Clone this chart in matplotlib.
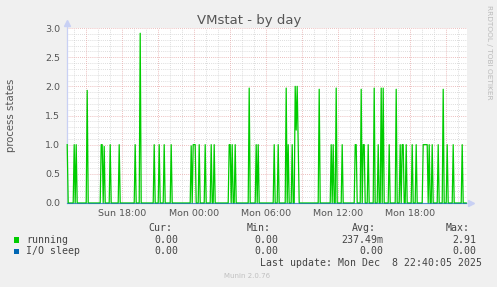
import matplotlib
matplotlib.use("Agg")
import matplotlib.pyplot as plt
import numpy as np

W, H = 497, 287

# ---------------- data ----------------
title = "VMstat - by day"
y_label = "process states"
start_hour = 13 + 25 / 60          # Sun 13:25, hours since Sun 00:00
step_hours = 5 / 60                # 5-minute samples
n_samples = 400

running_spike_index = [0, 7, 9, 20, 34, 35, 37, 43, 52, 68, 73, 87, 92, 97, 104,
                       124, 126, 127, 128, 132, 138, 144, 147, 162, 163, 165, 168,
                       182, 189, 191, 207, 211, 219, 221, 225, 228, 229, 230, 231,
                       252, 264, 266, 269, 275, 288, 289, 294, 296, 297, 301, 307,
                       311, 314, 316, 322, 329, 333, 335, 336, 339, 345, 349,
                       356, 357, 358, 359, 360, 362, 365, 371, 376, 380, 386, 395]
running_spike_value = [1.0, 1.0, 1.0, 1.93, 1.0, 1.0, 0.97, 1.0, 1.0, 1.0, 2.91, 1.0, 1.0, 1.0, 1.0,
                       0.98, 1.0, 1.0, 1.0, 1.0, 1.0, 1.0, 1.0, 1.0, 1.0, 1.0, 1.0,
                       1.97, 1.0, 1.0, 1.0, 1.0, 1.97, 1.0, 1.0, 2.0, 1.25, 2.0, 1.0,
                       1.95, 1.0, 1.0, 1.97, 1.0, 1.0, 1.0, 1.95, 1.0, 1.0, 1.0, 1.97,
                       1.0, 1.97, 1.97, 1.0, 1.95, 1.0, 1.0, 1.0, 1.0, 1.0, 1.0,
                       1.0, 1.0, 1.0, 1.0, 1.0, 1.0, 1.0, 1.0, 1.95, 1.0, 1.0, 1.0]
io_sleep_level = 0.0

x_tick_hours = [18, 24, 30, 36, 42]
x_tick_labels = ["Sun 18:00", "Mon 00:00", "Mon 06:00", "Mon 12:00", "Mon 18:00"]
y_ticks = [0.0, 0.5, 1.0, 1.5, 2.0, 2.5, 3.0]

legend_names = ["running", "I/O sleep"]
legend_colors = ["#00cc00", "#0066b3"]
cur_vals = ["0.00", "0.00"]
min_vals = ["0.00", "0.00"]
avg_vals = ["237.49m", "0.00"]
max_vals = ["2.91", "0.00"]
last_update = "Last update: Mon Dec  8 22:40:05 2025"
munin_version = "Munin 2.0.76"
rrd_credit = "RRDTOOL / TOBI OETIKER"

# ---------------- build series ----------------
t = start_hour + step_hours * np.arange(n_samples)
running = np.zeros(n_samples)
running[running_spike_index] = running_spike_value
io_sleep = np.full(n_samples, io_sleep_level)

# ---------------- figure ----------------
def fx(x):
    return x / W

def fy(y):
    return 1 - y / H

fig = plt.figure(figsize=(W / 100, H / 100), dpi=100, facecolor="#f0f0f0")
ax = fig.add_axes([fx(67), fy(203), 400 / W, 175 / H])
ax.set_facecolor("white")
x0, x1 = start_hour - step_hours * 0.2, start_hour + step_hours * (n_samples - 0.2)
ax.set_xlim(x0, x1)
ax.set_ylim(0, 3.0)
for s in ax.spines.values():
    s.set_visible(False)

dot = (0, (1, 1.5))
# minor grid
for yv in np.arange(0.1, 3.0001, 0.1):
    if abs(yv / 0.5 - round(yv / 0.5)) > 1e-6:
        ax.axhline(yv, color="#d2d2d2", lw=0.6, ls=dot, zorder=0)
for hv in range(14, 47):
    if hv % 3 != 0:
        ax.axvline(hv, color="#d2d2d2", lw=0.6, ls=dot, zorder=0)
# major grid
for yv in y_ticks[1:]:
    ax.axhline(yv, color="#e6a8a8", lw=0.6, ls=dot, zorder=0.5)
for hv in range(15, 47, 3):
    ax.axvline(hv, color="#e6a8a8", lw=0.6, ls=dot, zorder=0.5)

ax.set_yticks(y_ticks)
ax.set_yticklabels([f"{v:.1f}" for v in y_ticks])
ax.set_xticks(x_tick_hours)
ax.set_xticklabels(x_tick_labels)
ax.tick_params(axis="both", length=0, labelsize=6.8, colors="#555555")
ax.tick_params(axis="y", pad=5)
ax.tick_params(axis="x", pad=4)

# axis lines & arrows
axis_col = "#c8d0f4"
ax.plot([x0, x0], [0, 3.08], color=axis_col, lw=0.9, clip_on=False, zorder=1)
ax.plot([x0, x1 + 0.15], [0, 0], color=axis_col, lw=0.9, clip_on=False, zorder=1)
ax.plot([x0], [3.08], marker="^", ms=4.5, color=axis_col, mec=axis_col, clip_on=False, zorder=1)
ax.plot([x1 + 0.3], [0], marker=">", ms=4.5, color=axis_col, mec=axis_col, clip_on=False, zorder=1)

# data
ax.plot(t, running, color=legend_colors[0], lw=0.9, zorder=3, clip_on=False)
ax.plot(t, io_sleep, color=legend_colors[1], lw=0.8, zorder=4, alpha=0.6, clip_on=False)

# title & labels
fig.text(fx(248.7), fy(24), title, ha="center", va="baseline", fontsize=9.5, color="#555555")
fig.text(fx(11), fy(115.5), y_label, ha="center", va="center", rotation=90, fontsize=7.3, color="#555555")
fig.text(fx(488.5), fy(5), rrd_credit, ha="center", va="top", rotation=-90, fontsize=5.3, color="#bbbbbb")

# legend
mono = "DejaVu Sans Mono"
lc = "#444444"
fs = 7.1
hdr_y, row_y = 228.3, [240, 251.3]
for label, xr in zip(["Cur:", "Min:", "Avg:", "Max:"], [172, 271, 376, 469.5]):
    fig.text(fx(xr), fy(hdr_y), label, ha="right", va="center", family=mono, fontsize=fs, color=lc)
for i in range(2):
    ax_sq = fig.add_axes([fx(14), fy(row_y[i] + 2.6), 5.3 / W, 5.3 / H])
    ax_sq.set_facecolor(legend_colors[i])
    ax_sq.set_xticks([]); ax_sq.set_yticks([])
    for s in ax_sq.spines.values():
        s.set_visible(False)
    fig.text(fx(26.5), fy(row_y[i]), legend_names[i], ha="left", va="center", family=mono, fontsize=fs, color=lc)
    for val, xr in zip([cur_vals[i], min_vals[i], avg_vals[i], max_vals[i]], [178.5, 278, 383.3, 476.7]):
        fig.text(fx(xr), fy(row_y[i]), val, ha="right", va="center", family=mono, fontsize=fs, color=lc)
fig.text(fx(482.5), fy(263.3), last_update, ha="right", va="center", family=mono, fontsize=fs, color=lc)
fig.text(fx(247), fy(276), munin_version, ha="center", va="center", fontsize=5, color="#c0c0c0")

fig.savefig("out.png", dpi=100, facecolor=fig.get_facecolor())
